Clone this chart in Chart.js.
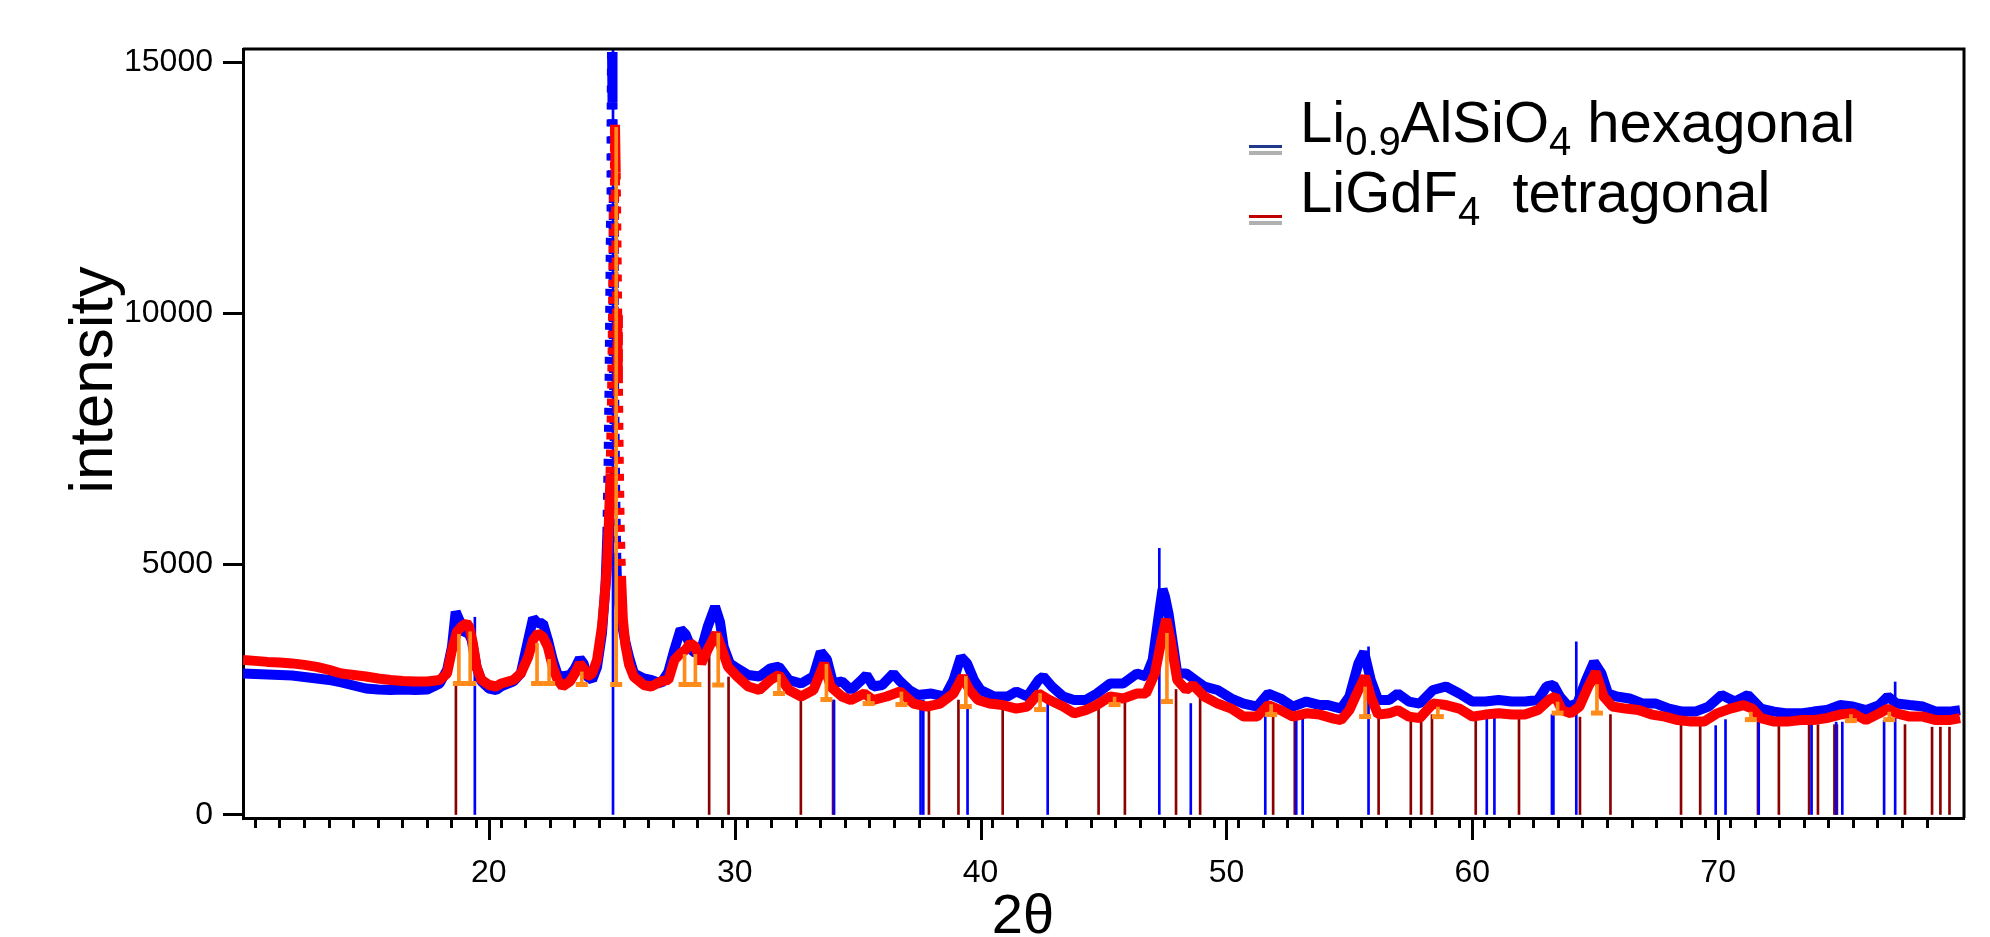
<!DOCTYPE html>
<html>
<head>
<meta charset="utf-8">
<title>XRD pattern</title>
<script src="https://cdn.jsdelivr.net/npm/chart.js@4.4.1/dist/chart.umd.min.js"></script>
<style>
  html, body { margin: 0; padding: 0; background: #fff; }
  #chart { display: block; }
</style>
</head>
<body>
<canvas id="chart" width="1990" height="937"></canvas>
<script>
// Measured pattern (blue = Li0.9AlSiO4 sample, red = LiGdF4 sample)
const blueX = [10, 10.5, 11, 11.5, 12, 12.5, 13, 13.5, 14, 14.5, 15, 15.5, 16, 16.5, 17, 17.5, 18, 18.3, 18.5, 18.65, 18.8, 19, 19.15, 19.3, 19.5, 19.7,
  20, 20.3, 20.5, 21, 21.3, 21.6, 21.8, 22, 22.2, 22.4, 22.6, 22.8, 23, 23.3, 23.5, 23.7, 23.85, 24, 24.2, 24.4, 24.6, 24.75,
  24.82, 24.87, 24.91, 24.94, 24.97, 24.99, 25.01, 25.03, 25.05, 25.07, 25.09, 25.11, 25.14, 25.18, 25.23, 25.3, 25.45, 25.55, 25.7, 25.9,
  26.3, 26.6, 27, 27.3, 27.55, 27.8, 28, 28.3, 28.6, 28.9, 29.2, 29.4, 29.55, 29.8, 30.1, 30.55, 31, 31.45, 31.8, 32.2, 32.7, 33.2, 33.5, 33.75,
  34, 34.36, 34.73, 35.1, 35.36, 35.64, 36, 36.45, 36.73, 37.1, 37.45, 38, 38.55, 38.9, 39.2, 39.45, 39.73, 40, 40.55, 41.1, 41.45, 41.9,
  42.36, 42.55, 42.9, 43.36, 43.8, 44.27, 44.73, 45.27, 45.8, 46.36, 46.73, 47, 47.24, 47.4, 47.5, 47.65, 47.8, 48, 48.36, 48.73, 49.1,
  49.64, 50.2, 50.7, 51.25, 51.7, 52.2, 52.7, 53.25, 53.8, 54.13, 54.66, 55, 55.37, 55.6, 55.87, 56.17, 56.62, 56.97, 57.42, 57.86, 58.4,
  58.93, 59.47, 60, 60.53, 61.07, 61.6, 62.14, 62.67, 63.02, 63.3, 63.56, 63.91, 64.27, 64.63, 64.95, 65.25, 65.52, 65.87, 66.4, 66.94,
  67.47, 68, 68.54, 69.07, 69.61, 70.14, 70.68, 71.21, 71.74, 72.28, 72.81, 73.35, 73.88, 74.41, 74.95, 75.48, 76.01, 76.55, 76.9, 77.26,
  77.79, 78.33, 78.86, 79.4, 79.84];
const blueY = [2820, 2810, 2800, 2790, 2780, 2750, 2720, 2690, 2640, 2580, 2520, 2500, 2490, 2500, 2490, 2500, 2620, 2890, 3350, 4050, 3880, 3620, 3650, 3490, 2950, 2660,
  2520, 2490, 2560, 2660, 2820, 3490, 3920, 3820, 3820, 3490, 3090, 2790, 2760, 2790, 2920, 3120, 3020, 2760, 2690, 2950, 3620, 4620,
  5600, 7000, 8600, 10300, 12000, 13600, 15200, 14200, 12500, 10800, 9200, 7800, 6400, 5200, 4300, 4200, 3700, 3450, 3150, 2820,
  2720, 2690, 2620, 2850, 3300, 3700, 3600, 3250, 3220, 3750, 4150, 3850, 3350, 3020, 2920, 2790, 2760, 2920, 2955, 2690, 2620, 2760, 3250, 3100,
  2620, 2660, 2490, 2660, 2790, 2560, 2590, 2820, 2660, 2490, 2390, 2420, 2360, 2690, 3150, 3020, 2690, 2490, 2360, 2360, 2460, 2360,
  2690, 2760, 2560, 2360, 2290, 2290, 2420, 2620, 2620, 2820, 2760, 3090, 3950, 4500, 4350, 4000, 3490, 2820, 2820, 2690, 2560,
  2490, 2320, 2220, 2160, 2420, 2320, 2160, 2260, 2190, 2190, 2120, 2360, 3020, 3250, 2690, 2290, 2290, 2420, 2260, 2220, 2490,
  2560, 2420, 2260, 2260, 2290, 2260, 2260, 2290, 2560, 2590, 2360, 2160, 2220, 2690, 3050, 2820, 2420, 2360, 2320, 2220,
  2220, 2120, 2060, 2060, 2160, 2390, 2260, 2390, 2120, 2060, 2025, 2025, 2060, 2090, 2190, 2160, 2090, 2190, 2360, 2220,
  2190, 2160, 2060, 2060, 2090];

const redX = [10, 10.5, 11, 11.5, 12, 12.5, 13, 13.5, 14, 14.5, 15, 15.5, 16, 16.5, 17, 17.5, 18, 18.3, 18.5, 18.7, 18.9, 19.1, 19.2, 19.35, 19.5, 19.7,
  20, 20.3, 20.5, 21, 21.3, 21.6, 21.8, 22, 22.2, 22.4, 22.6, 22.8, 23, 23.3, 23.5, 23.7, 23.85, 24, 24.2, 24.4, 24.6, 24.7, 24.8,
  24.88, 24.95, 25, 25.04, 25.07, 25.1, 25.13, 25.16, 25.19, 25.22, 25.25, 25.28, 25.32, 25.38, 25.45, 25.55, 25.7, 25.9,
  26.3, 26.6, 27, 27.3, 27.55, 27.8, 28, 28.2, 28.4, 28.64, 28.9, 29.24, 29.45, 29.73, 30.1, 30.55, 31, 31.45, 31.8, 32.2, 32.7, 33.2, 33.64, 33.9,
  34.36, 34.73, 35.27, 35.64, 36.18, 36.73, 37.27, 37.82, 38.36, 38.9, 39.27, 39.55, 39.9, 40.36, 40.9, 41.45, 41.9, 42.36, 42.8, 43.36,
  43.8, 44.27, 44.73, 45.27, 45.8, 46.36, 46.73, 47.09, 47.36, 47.55, 47.73, 48, 48.36, 48.64, 49.1, 49.64, 50.2, 50.7, 51.25, 51.7,
  52.2, 52.7, 53.25, 53.8, 54.36, 54.66, 55, 55.37, 55.64, 55.87, 56.17, 56.62, 56.97, 57.42, 57.86, 58.4, 58.93, 59.47, 60, 60.53,
  61.07, 61.6, 62.14, 62.67, 63.11, 63.38, 63.65, 64, 64.36, 64.72, 65.02, 65.34, 65.7, 66.23, 66.76, 67.3, 67.83, 68.36, 68.9, 69.43,
  69.96, 70.5, 71.03, 71.39, 71.74, 72.28, 72.81, 73.35, 73.88, 74.41, 74.95, 75.48, 76.01, 76.55, 76.9, 77.26, 77.79, 78.33, 78.86,
  79.4, 79.84];
const redY = [3090, 3070, 3050, 3040, 3020, 2990, 2950, 2890, 2820, 2790, 2760, 2720, 2690, 2670, 2660, 2660, 2690, 2820, 3290, 3650, 3760, 3820, 3750, 3420, 2950, 2690,
  2590, 2560, 2620, 2690, 2820, 3150, 3490, 3620, 3550, 3350, 2950, 2690, 2560, 2660, 2820, 3020, 2920, 2760, 2820, 3090, 3750, 4280, 4950,
  5800, 6800, 8000, 9500, 11000, 12500, 13750, 12800, 11400, 10000, 8600, 7200, 5800, 4700, 3900, 3400, 3000, 2750,
  2590, 2560, 2660, 2690, 3090, 3220, 3290, 3420, 3350, 3020, 3290, 3620, 3350, 2950, 2760, 2560, 2490, 2690, 2790, 2490, 2360, 2490, 3020, 2560,
  2360, 2290, 2420, 2290, 2360, 2460, 2220, 2160, 2220, 2420, 2760, 2490, 2290, 2220, 2190, 2120, 2160, 2420, 2290, 2160,
  2025, 2090, 2190, 2360, 2320, 2420, 2420, 2820, 3490, 3900, 3490, 2690, 2490, 2590, 2360, 2220, 2120, 1960, 1960, 2190,
  2090, 1960, 2025, 2000, 1920, 1890, 2090, 2490, 2760, 2360, 2000, 2025, 2090, 1960, 1930, 2220, 2190, 2120, 1960, 2000,
  2025, 2000, 2000, 2090, 2290, 2360, 2090, 2025, 2160, 2560, 2850, 2360, 2160, 2120, 2090, 2000, 1960, 1890, 1860, 1860,
  2025, 2120, 2190, 2120, 1930, 1860, 1860, 1890, 1890, 1930, 2000, 2025, 1890, 2025, 2120, 2025, 1960, 1960, 1890,
  1890, 1930];

// Reference peak positions (stick patterns)
const hexStickX = [19.43, 25.05, 34.04, 37.56, 37.67, 39.47, 42.73, 47.27, 48.55, 51.58, 52.84, 53.1, 55.78, 60.59, 60.9, 63.24, 63.3, 64.23,
  69.9, 70.3, 71.65, 73.8, 74.8, 75.05, 76.75, 77.2];
const hexStickY = [3940, 15260, 2290, 2290, 2290, 2160, 2290, 5310, 2220, 1960, 1960, 1960, 3350, 1950, 1950, 2000, 2000, 3450,
  1780, 1900, 1930, 1800, 1850, 1850, 1880, 2650];

const tetStickX = [18.66, 28.96, 29.75, 32.69, 34.0, 37.9, 39.1, 40.9, 44.8, 45.87, 47.95, 48.93, 51.9, 52.78, 56.19, 57.5, 57.92, 58.36,
  60.14, 61.9, 64.38, 65.62, 68.49, 69.27, 71.62, 72.47, 73.7, 74.06, 74.73, 74.83, 77.6, 78.7, 79.04, 79.41];
const tetStickY = [2600, 3650, 2750, 2360, 2290, 2160, 2290, 2130, 2150, 2290, 2500, 2420, 1960, 1960, 2000, 1900, 1900, 2000,
  1900, 1950, 1950, 2000, 1800, 1800, 1850, 1800, 1800, 1800, 1800, 1800, 1800, 1750, 1750, 1750];

// Fitted peaks (orange markers): position, background level, peak top
const fitX = [18.78, 19.24, 21.96, 22.45, 23.78, 25.18, 27.96, 28.4, 29.33, 31.8, 33.73, 35.45, 36.78, 39.4, 42.42, 45.45, 47.58,
  51.82, 55.64, 58.6, 63.47, 65.07, 71.33, 75.4, 76.96];
const fitBase = [2620, 2620, 2620, 2620, 2600, 2600, 2600, 2600, 2590, 2420, 2300, 2220, 2200, 2160, 2100, 2200, 2260,
  2000, 1960, 1960, 2030, 2030, 1900, 1880, 1900];
const fitTop = [3600, 3650, 3420, 3100, 2850, 13700, 3200, 3200, 3620, 2800, 3000, 2400, 2450, 2760, 2420, 2350, 3620,
  2200, 2550, 2150, 2250, 2600, 2050, 2000, 2050];

const yTicks = [0, 5000, 10000, 15000];
const xLabels = [20, 30, 40, 50, 60, 70];

const tickFont = { family: "'Liberation Sans', Arial, sans-serif", size: 32 };

function points(xs, ys) {
  return xs.map((x, i) => ({ x: x, y: ys[i] }));
}

function sticks(xs, bottoms, tops) {
  return xs.map((x, i) => ({ x: x, y: [Array.isArray(bottoms) ? bottoms[i] : bottoms, tops[i]] }));
}

// steep parts of the pattern look like separate dots
const steepDash = ctx => Math.abs(ctx.p1.parsed.y - ctx.p0.parsed.y) > 1000 ? [7, 10] : undefined;

// frame, long ticks, axis titles and legend
const decorations = {
  id: 'decorations',
  afterDraw(chart) {
    const ctx = chart.ctx;
    const area = chart.chartArea;
    const xs = chart.scales.x;
    ctx.save();
    ctx.strokeStyle = '#000';
    ctx.lineWidth = 3;
    ctx.beginPath();
    ctx.moveTo(area.left, area.top);
    ctx.lineTo(area.right, area.top);
    ctx.lineTo(area.right, area.bottom);
    ctx.stroke();

    // major x ticks are longer
    xLabels.forEach(v => {
      const px = Math.round(xs.getPixelForValue(v)) + 0.5;
      ctx.beginPath();
      ctx.moveTo(px, area.bottom);
      ctx.lineTo(px, area.bottom + 22);
      ctx.stroke();
    });

    ctx.fillStyle = '#000';
    ctx.font = "62px 'Liberation Sans', Arial, sans-serif";
    ctx.textAlign = 'center';
    ctx.textBaseline = 'alphabetic';
    ctx.save();
    ctx.translate(112, 380);
    ctx.rotate(-Math.PI / 2);
    ctx.fillText('intensity', 0, 0);
    ctx.restore();

    ctx.font = "56px 'Liberation Sans', Arial, sans-serif";
    ctx.fillText('2θ', 1023, 933);

    // legend
    const rows = [
      { color: '#1f3a8a', y: 142, parts: [['Li', 0], ['0.9', 1], ['AlSiO', 0], ['4', 1], [' hexagonal', 0]] },
      { color: '#c00000', y: 212, parts: [['LiGdF', 0], ['4', 1], ['  tetragonal', 0]] }
    ];
    ctx.textAlign = 'left';
    rows.forEach(row => {
      ctx.fillStyle = '#b0b0b0';
      ctx.fillRect(1249, row.y + 9, 33, 4);
      ctx.fillStyle = row.color;
      ctx.fillRect(1249, row.y + 3, 33, 3);
      let x = 1300;
      ctx.fillStyle = '#000';
      row.parts.forEach(([text, sub]) => {
        ctx.font = (sub ? '40px' : '58px') + " 'Liberation Sans', Arial, sans-serif";
        ctx.fillText(text, x, row.y + (sub ? 13 : 0));
        x += ctx.measureText(text).width;
      });
    });
    ctx.restore();
  }
};

new Chart(document.getElementById('chart'), {
  type: 'scatter',
  data: {
    datasets: [
      {
        type: 'bar',
        label: 'LiGdF4 reference',
        data: sticks(tetStickX, 0, tetStickY),
        backgroundColor: '#8b0000',
        barThickness: 2,
        grouped: false,
        order: 5
      },
      {
        type: 'bar',
        label: 'Li0.9AlSiO4 reference',
        data: sticks(hexStickX, 0, hexStickY),
        backgroundColor: '#0000ff',
        barThickness: 2,
        grouped: false,
        order: 4
      },
      {
        type: 'line',
        label: 'Li0.9AlSiO4',
        data: points(blueX, blueY),
        borderColor: '#0000ff',
        borderWidth: 10,
        borderJoinStyle: 'bevel',
        pointRadius: 0,
        segment: { borderDash: steepDash },
        order: 3
      },
      {
        type: 'line',
        label: 'LiGdF4',
        data: points(redX, redY),
        borderColor: '#ff0000',
        borderWidth: 10,
        borderJoinStyle: 'bevel',
        pointRadius: 0,
        segment: { borderDash: steepDash },
        order: 2
      },
      {
        type: 'bar',
        label: 'fit',
        data: sticks(fitX, fitBase, fitTop),
        backgroundColor: '#ff8c1a',
        barThickness: 3,
        grouped: false,
        order: 1
      },
      {
        label: 'fit base',
        data: points(fitX, fitBase),
        pointStyle: 'line',
        pointRadius: 6,
        borderWidth: 5,
        borderColor: '#ff8c1a',
        backgroundColor: '#ff8c1a',
        order: 0
      }
    ]
  },
  options: {
    responsive: false,
    animation: false,
    layout: { padding: { top: 49, right: 26, left: 0, bottom: 0 } },
    plugins: {
      legend: { display: false },
      tooltip: { enabled: false }
    },
    scales: {
      x: {
        type: 'linear',
        min: 10,
        max: 80,
        offset: false,
        afterFit: scale => { scale.height = 119; },
        border: { display: true, color: '#000', width: 3 },
        grid: {
          drawOnChartArea: false,
          drawTicks: true,
          tickLength: 10,
          tickWidth: 3,
          tickColor: ctx => (ctx.tick && (ctx.tick.value === 10 || ctx.tick.value === 80)) ? 'rgba(0,0,0,0)' : '#000'
        },
        ticks: {
          stepSize: 1,
          autoSkip: false,
          maxRotation: 0,
          padding: 26,
          color: '#000',
          font: tickFont,
          callback: v => xLabels.includes(v) ? String(v) : ''
        }
      },
      y: {
        type: 'linear',
        min: -60,
        max: 15260,
        afterFit: scale => { scale.width = 243; },
        afterBuildTicks: scale => { scale.ticks = yTicks.map(v => ({ value: v })); },
        border: { display: true, color: '#000', width: 3 },
        grid: {
          drawOnChartArea: false,
          drawTicks: true,
          tickLength: 20,
          tickWidth: 3,
          tickColor: '#000'
        },
        ticks: {
          padding: 10,
          color: '#000',
          font: tickFont,
          callback: v => String(v)
        }
      }
    }
  },
  plugins: [decorations]
});
</script>
</body>
</html>
